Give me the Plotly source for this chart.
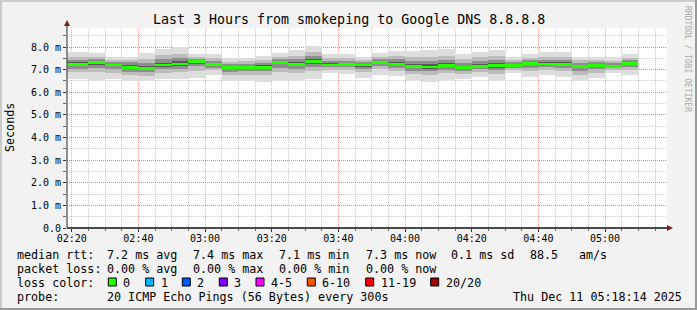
import pandas as pd
import plotly.graph_objects as go

# ---------------- data ----------------
# 5-minute smoke steps; each value covers the 5 minutes ending at bar_end
bar_end = pd.date_range("2025-12-11 02:20", "2025-12-11 05:10", freq="5min")

median = [7.24, 7.24, 7.31, 7.21, 7.09, 7.05, 7.21, 7.25, 7.36, 7.22,
          7.08, 7.11, 7.11, 7.33, 7.24, 7.37, 7.21, 7.24, 7.20, 7.30,
          7.25, 7.15, 7.12, 7.18, 7.08, 7.15, 7.17, 7.18, 7.27, 7.25,
          7.23, 7.15, 7.18, 7.15, 7.27]
ping_max = [7.80, 7.80, 7.75, 7.55, 7.58, 7.75, 7.91, 7.99, 7.70, 7.70,
            7.50, 7.53, 7.62, 7.73, 7.87, 8.04, 7.70, 7.68, 7.58, 7.75,
            7.84, 7.84, 7.87, 7.90, 7.70, 7.80, 7.87, 7.58, 7.68, 7.80,
            7.80, 7.58, 7.58, 7.55, 7.68]
ping_min = [6.60, 6.60, 6.55, 6.60, 6.50, 6.48, 6.58, 6.59, 6.62, 6.77,
            6.48, 6.50, 6.47, 6.52, 6.52, 6.57, 6.83, 6.79, 6.62, 6.77,
            6.72, 6.52, 6.47, 6.55, 6.58, 6.69, 6.52, 6.84, 6.66, 6.77,
            6.66, 6.48, 6.62, 6.84, 6.77]
smoke_hi2 = [7.58, 7.57, 7.57, 7.41, 7.42, 7.47, 7.63, 7.69, 7.56, 7.51,
             7.33, 7.36, 7.42, 7.57, 7.62, 7.77, 7.50, 7.50, 7.43, 7.57,
             7.60, 7.56, 7.57, 7.61, 7.45, 7.54, 7.59, 7.42, 7.52, 7.58,
             7.57, 7.41, 7.42, 7.39, 7.52]
smoke_lo2 = [6.89, 6.88, 6.89, 6.87, 6.77, 6.74, 6.86, 6.89, 6.95, 6.97,
             6.75, 6.77, 6.76, 6.88, 6.84, 6.93, 7.00, 6.99, 6.88, 7.01,
             6.96, 6.80, 6.76, 6.83, 6.81, 6.90, 6.81, 6.99, 6.93, 6.99,
             6.92, 6.78, 6.87, 6.98, 7.00]
smoke_hi3 = [7.44, 7.43, 7.46, 7.33, 7.33, 7.30, 7.45, 7.51, 7.48, 7.39,
             7.23, 7.26, 7.29, 7.47, 7.46, 7.60, 7.38, 7.39, 7.33, 7.46,
             7.46, 7.39, 7.38, 7.43, 7.30, 7.38, 7.42, 7.32, 7.41, 7.44,
             7.43, 7.30, 7.32, 7.29, 7.41]
smoke_lo3 = [7.05, 7.04, 7.08, 7.03, 6.91, 6.88, 7.02, 7.05, 7.14, 7.08,
             6.90, 6.93, 6.92, 7.09, 7.02, 7.13, 7.10, 7.10, 7.03, 7.14,
             7.09, 6.96, 6.93, 6.99, 6.93, 7.01, 6.98, 7.08, 7.09, 7.11,
             7.06, 6.95, 7.01, 7.06, 7.12]
smoke_hi4 = [7.32, 7.33, 7.38, 7.26, 7.22, 7.16, 7.31, 7.36, 7.41, 7.29,
             7.14, 7.17, 7.19, 7.39, 7.33, 7.47, 7.28, 7.31, 7.26, 7.37,
             7.34, 7.25, 7.23, 7.29, 7.17, 7.25, 7.28, 7.24, 7.33, 7.33,
             7.32, 7.21, 7.24, 7.21, 7.33]
smoke_lo4 = [7.16, 7.15, 7.22, 7.14, 7.02, 6.98, 7.13, 7.17, 7.27, 7.16,
             7.01, 7.04, 7.03, 7.23, 7.15, 7.27, 7.16, 7.19, 7.13, 7.24,
             7.19, 7.07, 7.04, 7.10, 7.02, 7.09, 7.09, 7.14, 7.20, 7.19,
             7.16, 7.07, 7.11, 7.11, 7.21]

y_tick_values = [0, 1, 2, 3, 4, 5, 6, 7, 8]
y_tick_labels = ["0.0", "1.0 m", "2.0 m", "3.0 m", "4.0 m",
                 "5.0 m", "6.0 m", "7.0 m", "8.0 m"]

title_text = "Last 3 Hours from smokeping to Google DNS 8.8.8.8"
rtt_stats = ["7.2 ms avg", "7.4 ms max", "7.1 ms min", "7.3 ms now",
             "0.1 ms sd", "88.5", "am/s"]
loss_stats = ["0.00 % avg", "0.00 % max", "0.00 % min", "0.00 % now"]
loss_labels = ["0", "1", "2", "3", "4-5", "6-10", "11-19", "20/20"]
loss_colors = ["#26ff00", "#00b8ff", "#0059ff", "#7e00ff",
               "#ff00ff", "#ff5500", "#ff0000", "#a10000"]
probe_text = "20 ICMP Echo Pings (56 Bytes) every 300s"
stamp_text = "Thu Dec 11 05:18:14 2025"

# ---------------- style / layout ----------------
W, H = 697, 310
PL, PR, PT, PB = 67, 667, 28, 228  # plot area in pixels
MONO = "DejaVu Sans Mono"
STEP_MS = 5 * 60 * 1000
MED_HALF = 0.06


def px_x(x):
    return (x - PL) / (PR - PL)


def px_y(y):
    return (PB - y) / (PB - PT)


centers = bar_end - pd.Timedelta(minutes=2.5)

fig = go.Figure()
layers = [
    (ping_min, ping_max, "#dddddd"),
    (smoke_lo2, smoke_hi2, "#bcbcbc"),
    (smoke_lo3, smoke_hi3, "#8e8e8e"),
    (smoke_lo4, smoke_hi4, "#575757"),
]
for lo, hi, col in layers:
    fig.add_trace(go.Bar(
        x=centers, base=lo, y=[h - l for h, l in zip(hi, lo)],
        width=STEP_MS, marker=dict(color=col, line=dict(width=0)),
        hoverinfo="skip"))
fig.add_trace(go.Bar(
    x=centers, base=[m - MED_HALF for m in median],
    y=[2 * MED_HALF] * len(median), width=STEP_MS,
    marker=dict(color=loss_colors[0], line=dict(width=0)), hoverinfo="skip"))

RED_GRID = "rgba(255,0,0,0.35)"
GRAY_GRID = "rgba(140,140,140,0.45)"

fig.update_layout(
    width=W, height=H,
    margin=dict(l=PL, r=W - PR, t=PT, b=H - PB, pad=0),
    paper_bgcolor="#f2f2f2", plot_bgcolor="#ffffff",
    barmode="overlay", bargap=0, showlegend=False,
    font=dict(family=MONO, size=10, color="#000000"),
    xaxis=dict(
        type="date",
        range=["2025-12-11 02:18:35", "2025-12-11 05:18:35"],
        tickformat="%H:%M", tick0="2025-12-11 02:20", dtick=20 * 60 * 1000,
        showgrid=True, gridcolor=RED_GRID, gridwidth=1, griddash="1px,1px",
        ticks="outside", ticklen=3, tickcolor="#333333",
        ticklabelstandoff=-2,
        minor=dict(tick0="2025-12-11 02:20", dtick=STEP_MS, showgrid=True,
                   gridcolor=GRAY_GRID, gridwidth=1, griddash="1px,1px",
                   ticks="outside", ticklen=2, tickcolor="#666666"),
        zeroline=False, showline=False,
        tickfont=dict(family=MONO, size=10, color="#000000"),
    ),
    yaxis=dict(
        range=[0, 8.84], tickmode="array", tickvals=y_tick_values,
        ticktext=y_tick_labels,
        showgrid=True, gridcolor=RED_GRID, gridwidth=1, griddash="1px,1px",
        ticks="outside", ticklen=3, tickcolor="#333333",
        minor=dict(tickmode="linear", tick0=0, dtick=0.5, showgrid=True,
                   gridcolor=GRAY_GRID, gridwidth=1, griddash="1px,1px",
                   ticks="outside", ticklen=3, tickcolor="#666666"),
        zeroline=False, showline=False,
        tickfont=dict(family=MONO, size=10, color="#000000"),
    ),
)

shapes = []
# axes with arrows
shapes.append(dict(type="line", xref="paper", yref="paper",
                   x0=px_x(PL), x1=px_x(669), y0=0, y1=0,
                   line=dict(color="#111111", width=1.3)))
shapes.append(dict(type="line", xref="paper", yref="paper",
                   x0=0, x1=0, y0=0, y1=px_y(24),
                   line=dict(color="#555555", width=1.3)))
shapes.append(dict(type="path", xref="paper", yref="paper",
                   path="M {} {} L {} {} L {} {} Z".format(
                       px_x(667), px_y(225), px_x(667), px_y(231),
                       px_x(673), px_y(228)),
                   fillcolor="#7f1f1f", line=dict(width=0)))
shapes.append(dict(type="path", xref="paper", yref="paper",
                   path="M {} {} L {} {} L {} {} Z".format(
                       px_x(64), px_y(26), px_x(70), px_y(26),
                       px_x(67), px_y(20)),
                   fillcolor="#7f1f1f", line=dict(width=0)))
# 3D frame
for x0, x1, y0, y1, c in [(0, W, 0, 2, "#cbcbcb"), (0, 2, 0, H, "#cbcbcb"),
                          (0, W, H - 2, H, "#999999"), (W - 2, W, 0, H, "#999999")]:
    shapes.append(dict(type="rect", xref="paper", yref="paper",
                       x0=px_x(x0), x1=px_x(x1), y0=px_y(y0), y1=px_y(y1),
                       fillcolor=c, line=dict(width=0)))

annotations = []


def ann(text, x, y, size=11.7, xanchor="left", color="#000000", angle=0):
    annotations.append(dict(
        text=text, xref="paper", yref="paper", x=px_x(x), y=px_y(y),
        xanchor=xanchor, yanchor="middle", showarrow=False, borderpad=0,
        textangle=angle, font=dict(family=MONO, size=size, color=color)))


ann(title_text, 348.5, 19, size=13.3, xanchor="center")
ann("Seconds", 10, 128, size=11.7, xanchor="center", angle=-90)
ann("RRDTOOL / TOBI OETIKER", 688, 59, size=8, xanchor="center",
    color="#a8a8a8", angle=90)

row_y = [254.5, 268.5, 282.5, 296.5]
col_x = [107.3, 193.3, 279.3, 365.7, 451, 530, 579.3]
ann("median rtt:", 16, row_y[0])
for t, x in zip(rtt_stats, col_x):
    ann(t, x - 1, row_y[0])
ann("packet loss:", 16, row_y[1])
for t, x in zip(loss_stats, col_x):
    ann(t, x - 1, row_y[1])
ann("loss color:", 16, row_y[2])
box_x = [108.3, 145.7, 182.3, 219.3, 256, 307.3, 365.7, 430.7]
for lab, col, bx in zip(loss_labels, loss_colors, box_x):
    shapes.append(dict(type="rect", xref="paper", yref="paper",
                       x0=px_x(bx), x1=px_x(bx + 8),
                       y0=px_y(286), y1=px_y(278),
                       fillcolor=col, line=dict(color="#000000", width=1)))
    ann(lab, bx + 14, row_y[2])
ann("probe:", 16, row_y[3])
ann(probe_text, 107.3 - 1, row_y[3])
ann(stamp_text, 513.3 - 1, row_y[3])

fig.update_layout(shapes=shapes, annotations=annotations)
fig.write_html("out.html")
